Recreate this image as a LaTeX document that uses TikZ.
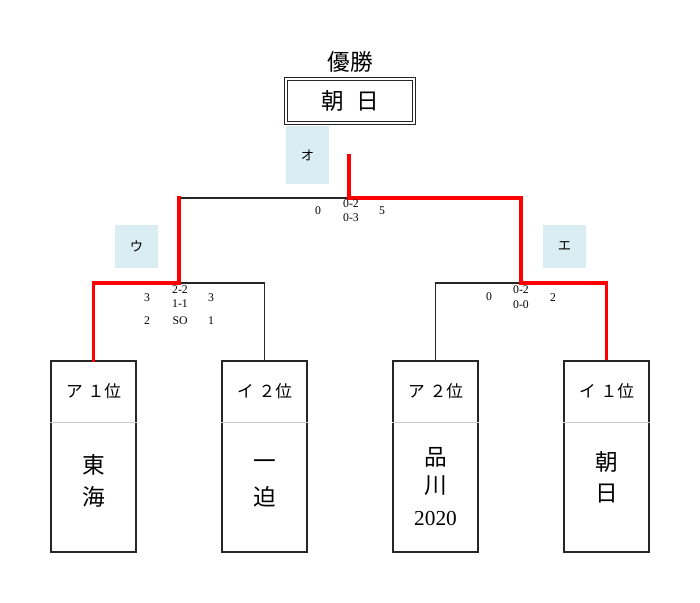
\documentclass[tikz,border=0pt]{standalone}
\usepackage{fontspec}
\setmainfont{Liberation Serif}
\newfontfamily\jp{Noto Sans CJK JP}
\definecolor{lblue}{HTML}{DAEDF3}
\definecolor{winred}{HTML}{FF0000}
\tikzset{
  teambox/.style={draw=black!85, line width=0.9pt, minimum width=63.75pt, minimum height=143.25pt, inner sep=0pt},
  labbox/.style={fill=lblue, minimum width=32.25pt, minimum height=32.25pt, inner sep=0pt, font=\jp\fontsize{10}{11}\selectfont},
  champbox/.style={draw=black!85, double, line width=0.8pt, double distance=1.6pt, minimum width=96pt, minimum height=33pt, inner sep=0pt, font=\jp\fontsize{17}{18}\selectfont},
  winline/.style={draw=winred, line width=2.4pt},
  loseline/.style={draw=black!85, line width=0.8pt},
  scoretxt/.style={font=\fontsize{8.8}{10}\selectfont, inner sep=0pt},
  headtxt/.style={font=\jp\fontsize{12.5}{14}\selectfont, inner sep=0pt},
  teamname/.style={font=\jp\fontsize{17}{19}\selectfont, inner sep=0pt},
}
\begin{document}
\begin{tikzpicture}[x=0.75pt,y=-0.75pt]
\useasboundingbox (0,0) rectangle (700,603);
% team boxes
\node[teambox] (t1) at (93.5,456.5) {};
\node[teambox] (t2) at (264.5,456.5) {};
\node[teambox] (t3) at (435.5,456.5) {};
\node[teambox] (t4) at (606.5,456.5) {};
\foreach \t in {t1,t2,t3,t4}{
  \draw[black!20, line width=0.6pt] ([yshift=-46.5pt]\t.north west) -- ([yshift=-46.5pt]\t.north east);
}
\node[headtxt] (h1) at (93.5,391) {ア\hspace{0.3em}１位};
\node[headtxt] (h2) at (264.5,391) {イ\hspace{0.3em}２位};
\node[headtxt] (h3) at (435.5,391) {ア\hspace{0.3em}２位};
\node[headtxt] (h4) at (606.5,391) {イ\hspace{0.3em}１位};
\node[teamname] (n1a) at (93.5,465) {東};
\node[teamname] (n1b) at (93.5,497) {海};
\node[teamname] (n2a) at (264.5,465) {一};
\node[teamname] (n2b) at (264.5,497) {迫};
\node[teamname] (n3a) at (435.5,457) {品};
\node[teamname] (n3b) at (435.5,486) {川};
\node[inner sep=0pt, font=\fontsize{16}{18}\selectfont] (n3c) at (435.5,519) {2020};
\node[teamname] (n4a) at (606.5,462) {朝};
\node[teamname] (n4b) at (606.5,494) {日};
% champion
\node[font=\jp\fontsize{17}{18}\selectfont, inner sep=0pt] (yu) at (350,62) {優勝};
\node[champbox] (ch) at (350,101) {朝\hspace{0.55em}日};
% label boxes
\node[labbox, minimum height=43.5pt] (lo) at (307.5,155) {オ};
\node[labbox] (lu) at (136.5,246.5) {ウ};
\node[labbox] (le) at (564.5,246.5) {エ};
% bracket coordinates
\coordinate (m1) at (179,283);
\coordinate (m2) at (521,283);
\coordinate (f) at (349,198);
\coordinate (top) at (349,154);
\coordinate (fl) at (179,198);
% lines
\draw[loseline] (m1) -| (t2.north);
\draw[loseline] (m2) -| (t3.north);
\draw[loseline] (fl) -- (f);
\draw[winline, line cap=rect] (t1.north) |- (m1) -- (fl);
\draw[winline] (top) -- (f) -| (m2) -| (t4.north);
% scores
\node[scoretxt] (s1) at (318,211) {0};
\node[scoretxt] (s2) at (351,204) {0-2};
\node[scoretxt] (s3) at (351,218) {0-3};
\node[scoretxt] (s4) at (382,211) {5};
\node[scoretxt] (a1) at (147,298) {3};
\node[scoretxt] (a2) at (180,290) {2-2};
\node[scoretxt] (a3) at (180,304) {1-1};
\node[scoretxt] (a4) at (211,298) {3};
\node[scoretxt] (a5) at (147,321) {2};
\node[scoretxt] (a6) at (180,321) {SO};
\node[scoretxt] (a7) at (211,321) {1};
\node[scoretxt] (b1) at (489,297) {0};
\node[scoretxt] (b2) at (521,290) {0-2};
\node[scoretxt] (b3) at (521,305) {0-0};
\node[scoretxt] (b4) at (553,298) {2};
\end{tikzpicture}
\end{document}
